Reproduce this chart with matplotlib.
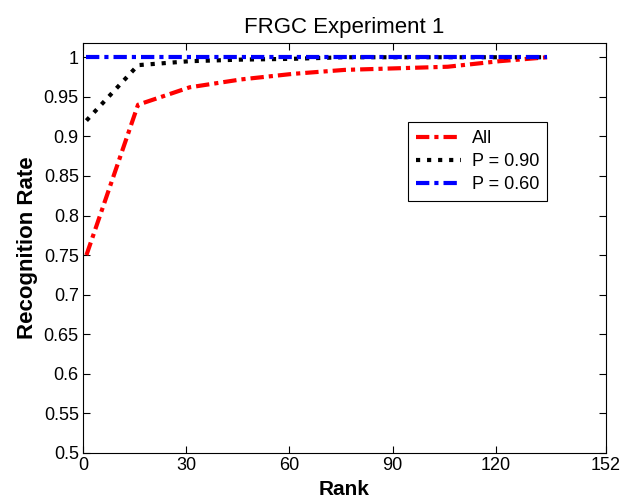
import numpy as np
import matplotlib
matplotlib.use('Agg')
import matplotlib.pyplot as plt

plt.rcParams['font.family'] = ['Liberation Sans', 'DejaVu Sans']

rank = [1, 16, 31, 46, 61, 76, 91, 106, 121, 135]
rate_all = [0.75, 0.94, 0.962, 0.972, 0.979, 0.984, 0.986, 0.988, 0.995, 1.0]
rate_p90 = [0.92, 0.99, 0.995, 0.997, 0.998, 1.0, 1.0, 1.0, 1.0, 1.0]
rate_p60 = [1.0, 1.0, 1.0, 1.0, 1.0, 1.0, 1.0, 1.0, 1.0, 1.0]

xticks = [0, 30, 60, 90, 120, 152]
yticks = [0.5, 0.55, 0.6, 0.65, 0.7, 0.75, 0.8, 0.85, 0.9, 0.95, 1]
ytick_labels = ['0.5', '0.55', '0.6', '0.65', '0.7', '0.75', '0.8', '0.85', '0.9', '0.95', '1']

fig = plt.figure(figsize=(6.23, 5.04), dpi=100)
ax = fig.add_axes([0.1332, 0.1012, 0.8395, 0.8135])

dashdot = (0, (3.2, 1.2, 1, 1.2))
ax.plot(rank, rate_all, color='#ff0000', linestyle=dashdot, linewidth=3, label='All')
ax.plot(rank, rate_p90, color='black', linestyle=':', linewidth=3, label='P = 0.90')
ax.plot(rank, rate_p60, color='#0000ff', linestyle=dashdot, linewidth=3, label='P = 0.60')

ax.set_xlim(0, 152)
ax.set_ylim(0.5, 1.018)
ax.set_xticks(xticks)
ax.set_yticks(yticks)
ax.set_yticklabels(ytick_labels)
ax.tick_params(direction='in', top=True, right=True, labelsize=13, length=5, pad=3)

ax.set_title('FRGC Experiment 1', fontsize=16, pad=7)
ax.set_xlabel('Rank', fontsize=15, fontweight='bold', labelpad=4)
ax.set_ylabel('Recognition Rate', fontsize=16, fontweight='bold', labelpad=4)

leg = ax.legend(loc='upper left', bbox_to_anchor=(0.621, 0.807), fontsize=13,
                fancybox=False, framealpha=1, edgecolor='black',
                handlelength=2.5, handletextpad=0.6, borderpad=0.45,
                labelspacing=0.33, borderaxespad=0)
leg.get_frame().set_linewidth(0.8)

fig.savefig('out.png', dpi=100)
